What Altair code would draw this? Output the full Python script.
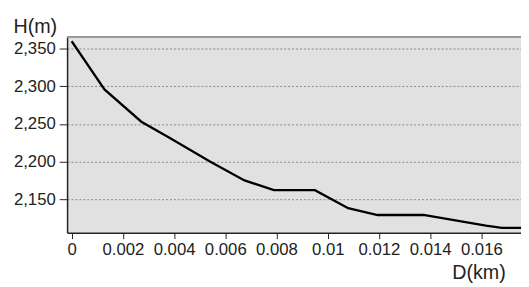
import altair as alt
import pandas as pd

dist_km = [0.0, 0.00128, 0.00272, 0.00375, 0.0054, 0.00675, 0.0079, 0.0095,
           0.0108, 0.01195, 0.01374, 0.01618, 0.0168, 0.01755]
height_m = [2360, 2296, 2253, 2233, 2200, 2175, 2162, 2162,
            2138, 2129, 2129, 2115, 2112, 2112]
x_ticks = [0, 0.002, 0.004, 0.006, 0.008, 0.01, 0.012, 0.014, 0.016]
y_ticks = [2150, 2200, 2250, 2300, 2350]

df = pd.DataFrame({"D": dist_km, "H": height_m})

font = "Liberation Sans"
W, H = 461, 199

line = alt.Chart(df).mark_line(color="black", strokeWidth=2.3, clip=True).encode(
    x=alt.X("D:Q",
            scale=alt.Scale(domain=[-0.00018, 0.01755], nice=False, zero=False),
            axis=alt.Axis(values=x_ticks, format="~g", grid=False, title="D(km)",
                          titleX=445, titleY=47, titleAlign="right",
                          titleBaseline="alphabetic", titleFontSize=20,
                          titleFontWeight="normal", titleFont=font,
                          titleColor="#222", labelFont=font, labelFontSize=17,
                          labelColor="#222", tickSize=6, tickColor="#222",
                          domainColor="#222", domainWidth=1.5,
                          labelPadding=3, labelFlush=False)),
    y=alt.Y("H:Q",
            scale=alt.Scale(domain=[2105.5, 2366], nice=False, zero=False),
            axis=alt.Axis(values=y_ticks, format=",.0f", grid=True, gridDash=[2, 2],
                          gridColor="#888", gridWidth=1, title="H(m)",
                          titleAngle=0, titleX=-55, titleY=-4, titleAlign="left",
                          titleBaseline="alphabetic", titleFontSize=20,
                          titleFontWeight="normal", titleFont=font,
                          titleColor="#222", labelFont=font, labelFontSize=17,
                          labelColor="#222", tickSize=8, tickColor="#222",
                          domainColor="#222", domainWidth=1.5, labelPadding=4)),
)

top_border = alt.Chart(df).mark_rule(color="#999", strokeWidth=1.5).encode(
    x=alt.value(0), x2=alt.value(W), y=alt.value(0)
)

chart = alt.layer(line, top_border).properties(
    width=W, height=H,
    autosize=alt.AutoSizeParams(type="none"),
    padding={"left": 60, "top": 27, "right": 0, "bottom": 53},
).configure_view(
    fill="#e1e1e1", stroke=None
)

chart.save("out.html", embed_options={"renderer": "svg", "actions": False})
